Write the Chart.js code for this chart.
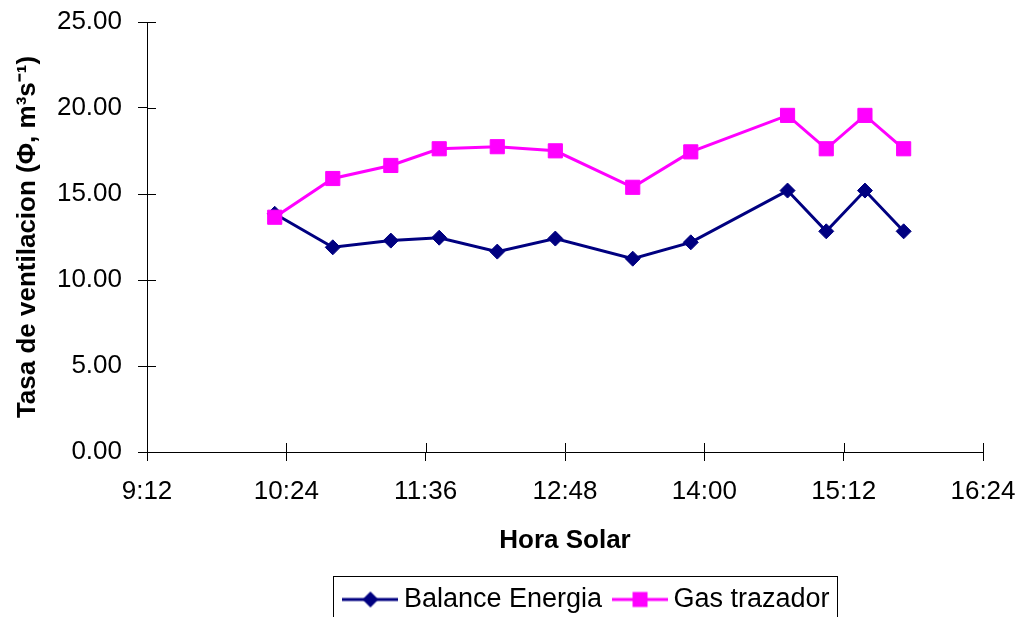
<!DOCTYPE html>
<html><head><meta charset="utf-8">
<script src="https://cdn.jsdelivr.net/npm/chart.js@4.4.1/dist/chart.umd.min.js"></script>
<style>html,body{margin:0;padding:0;background:#fff;} #wrap{width:1017px;height:617px;position:relative;}</style>
</head><body><div id="wrap"><canvas id="c" width="1017" height="617"></canvas></div>
<script>
// ---- data ----
const times = ["10:18","10:48","11:18","11:43","12:13","12:43","13:23","13:53","14:43","15:03","15:23","15:43"];
const balanceEnergia = [13.85,11.90,12.29,12.46,11.65,12.41,11.24,12.19,15.20,12.83,15.20,12.83];
const gasTrazador = [13.65,15.90,16.66,17.63,17.75,17.51,15.39,17.45,19.57,17.63,19.57,17.63];
const xTickLabels = ["9:12","10:24","11:36","12:48","14:00","15:12","16:24"];
const yTickValues = [0,5,10,15,20,25];
const seriesNames = ["Balance Energia","Gas trazador"];
const xTitle = "Hora Solar";
const yTitle = "Tasa de ventilacion (\u03A6, m\u00B3s\u207B\u00B9)";

const NAVY = "#000080", MAGENTA = "#FF00FF";
const FONT = "'Liberation Sans', Arial, sans-serif";
const toMin = s => { const [h,m] = s.split(":").map(Number); return h*60+m; };
const fmt = v => { const h = Math.floor(v/60), m = Math.round(v - h*60); return h + ":" + String(m).padStart(2,"0"); };

function makeIcon(color, shape) {
  const c = document.createElement("canvas");
  c.width = 56; c.height = 24;
  const g = c.getContext("2d");
  g.strokeStyle = color; g.lineWidth = 3;
  g.beginPath(); g.moveTo(0, 12); g.lineTo(56, 12); g.stroke();
  g.fillStyle = color;
  g.beginPath();
  if (shape === "diamond") {
    g.moveTo(28-8,12); g.lineTo(28,12-8); g.lineTo(28+8,12); g.lineTo(28,12+8); g.closePath();
  } else {
    g.rect(28-7.5, 12-7.5, 15, 15);
  }
  g.fill();
  return c;
}
const icons = [makeIcon(NAVY,"diamond"), makeIcon(MAGENTA,"square")];

const crossTicks = {
  id: "crossTicks",
  afterDraw(chart) {
    const ctx = chart.ctx, x = chart.scales.x, y = chart.scales.y;
    ctx.save();
    ctx.strokeStyle = "#000"; ctx.lineWidth = 1;
    ctx.beginPath();
    x.ticks.forEach(t => { const px = Math.round(x.getPixelForValue(t.value)) + 0.5; ctx.moveTo(px, chart.chartArea.bottom); ctx.lineTo(px, chart.chartArea.bottom - 9); });
    y.ticks.forEach(t => { const py = Math.round(y.getPixelForValue(t.value)) + 0.5; ctx.moveTo(chart.chartArea.left, py); ctx.lineTo(chart.chartArea.left + 9, py); });
    ctx.stroke();
    // legend border
    const lg = chart.legend;
    if (lg && lg.legendHitBoxes && lg.legendHitBoxes.length) {
      const hb = lg.legendHitBoxes;
      const L = Math.min(...hb.map(h => h.left)) - 17;
      const R = Math.max(...hb.map(h => h.left + h.width)) + 8;
      const T = Math.min(...hb.map(h => h.top)) - 10;
      ctx.strokeRect(Math.round(L)+0.5, Math.round(T)+0.5, Math.round(R-L), chart.height - T + 20);
    }
    ctx.restore();
  }
};

const legendShift = {
  id: "legendShift",
  afterLayout(chart) {
    const lg = chart.legend;
    if (!lg) return;
    lg.left = 163; lg.right = 1017; lg.width = lg.right - lg.left;
    lg.top += 6; lg.bottom += 6;
  }
};

new Chart(document.getElementById("c"), {
  type: "line",
  data: {
    datasets: [
      { label: seriesNames[0], data: times.map((t,i) => ({x: toMin(t), y: balanceEnergia[i]})),
        borderColor: NAVY, backgroundColor: NAVY, borderWidth: 3, pointStyle: "rectRot",
        pointRadius: 7.5, pointBorderWidth: 1, pointBorderColor: NAVY, pointBackgroundColor: NAVY, order: 1, tension: 0 },
      { label: seriesNames[1], data: times.map((t,i) => ({x: toMin(t), y: gasTrazador[i]})),
        borderColor: MAGENTA, backgroundColor: MAGENTA, borderWidth: 3, pointStyle: "rect",
        pointRadius: 10, pointBorderWidth: 1, pointBorderColor: MAGENTA, pointBackgroundColor: MAGENTA, order: 0, tension: 0 }
    ]
  },
  options: {
    responsive: false, animation: false, devicePixelRatio: 1,
    layout: { padding: { left: 0, right: 34, top: 22, bottom: 0 } },
    plugins: {
      tooltip: { enabled: false },
      legend: {
        position: "bottom", align: "center",
        labels: {
          color: "#000", font: { family: FONT, size: 27 }, padding: 18,
          usePointStyle: true, pointStyleWidth: 40,
          generateLabels(chart) {
            return chart.data.datasets.map((ds, i) => ({
              text: ds.label, fillStyle: ds.borderColor, strokeStyle: ds.borderColor,
              pointStyle: icons[i], datasetIndex: i, lineWidth: 0, fontColor: "#000", hidden: false
            }));
          }
        }
      }
    },
    scales: {
      x: {
        type: "linear",
        min: toMin(xTickLabels[0]), max: toMin(xTickLabels[xTickLabels.length-1]),
        afterBuildTicks(s) { s.ticks = xTickLabels.map(l => ({ value: toMin(l) })); },
        afterFit(s) { s.height = 110; s.paddingLeft = 0; s.paddingRight = 0; s.paddingTop = 0; s.paddingBottom = 0; },
        ticks: { callback: v => fmt(v), color: "#000", font: { family: FONT, size: 26 }, padding: 15, maxRotation: 0, autoSkip: false },
        grid: { display: true, drawOnChartArea: false, drawTicks: true, tickLength: 9, color: "#000" },
        border: { display: true, color: "#000", width: 1 },
        title: { display: true, text: xTitle, color: "#000", font: { family: FONT, size: 26, weight: "bold" }, padding: { top: 0, bottom: 6 } }
      },
      y: {
        min: yTickValues[0], max: yTickValues[yTickValues.length-1],
        afterBuildTicks(s) { s.ticks = yTickValues.map(v => ({ value: v })); },
        afterFit(s) { s.width = 147; s.paddingLeft = 0; s.paddingRight = 0; s.paddingTop = 0; s.paddingBottom = 0; },
        ticks: { callback: v => Number(v).toFixed(2), color: "#000", font: { family: FONT, size: 26 }, padding: 16 },
        grid: { display: true, drawOnChartArea: false, drawTicks: true, tickLength: 9, color: "#000" },
        border: { display: true, color: "#000", width: 1 },
        title: { display: true, text: yTitle, color: "#000", font: { family: FONT, size: 26, weight: "bold" }, padding: { top: 12, bottom: 0 } }
      }
    }
  },
  plugins: [legendShift, crossTicks]
});
</script>
</body></html>
